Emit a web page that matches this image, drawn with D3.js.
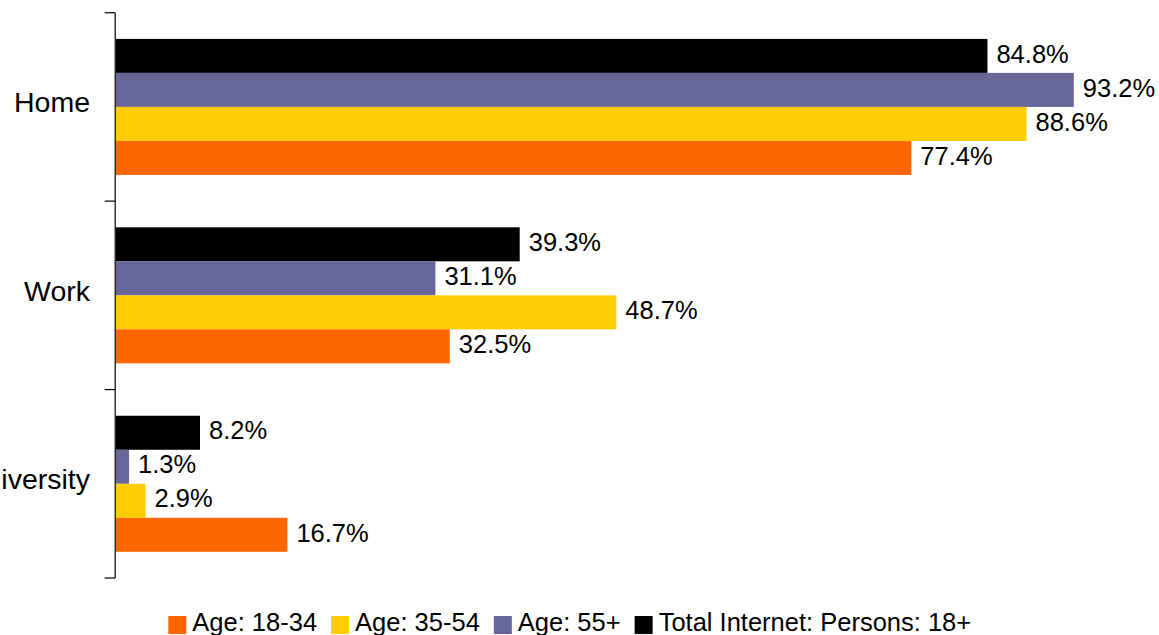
<!DOCTYPE html>
<html>
<head>
<meta charset="utf-8">
<script src="https://cdn.jsdelivr.net/npm/d3@7"></script>
<style>
  html, body { margin: 0; padding: 0; background: #ffffff; }
  svg { display: block; font-family: "Liberation Sans", Arial, sans-serif; }
</style>
</head>
<body>
<svg id="chart" width="1159" height="635"></svg>
<script>
// Place of internet access, share of each age group
const categories = ["Home", "Work", "University"];
// Bars listed top to bottom inside each category
const seriesNames = ["Total Internet: Persons: 18+", "Age: 55+", "Age: 35-54", "Age: 18-34"];
const seriesColors = ["#000000", "#666699", "#FFCC00", "#FF6600"];
const totalInternet = [84.8, 39.3, 8.2];
const age55plus = [93.2, 31.1, 1.3];
const age35to54 = [88.6, 48.7, 2.9];
const age18to34 = [77.4, 32.5, 16.7];
const seriesValues = [totalInternet, age55plus, age35to54, age18to34];
// Legend runs in the opposite order
const legendOrder = [3, 2, 1, 0];

const svg = d3.select("#chart");

const x = d3.scaleLinear().domain([0, 100]).range([115.7, 1143.7]);
const y0 = d3.scaleBand().domain(categories).range([12.7, 578]).paddingInner(0.278).paddingOuter(0.139);
const y1 = d3.scaleBand().domain(seriesNames).range([0, y0.bandwidth()]);

const rows = [];
categories.forEach((c, ci) => {
  seriesNames.forEach((s, si) => {
    rows.push({ cat: c, series: s, color: seriesColors[si], value: seriesValues[si][ci] });
  });
});

// Bars
svg.append("g").selectAll("rect")
  .data(rows)
  .join("rect")
  .attr("x", x(0))
  .attr("y", d => y0(d.cat) + y1(d.series))
  .attr("width", d => x(d.value) - x(0))
  .attr("height", y1.bandwidth())
  .attr("fill", d => d.color);

// Value labels
svg.append("g").selectAll("text")
  .data(rows)
  .join("text")
  .attr("x", d => x(d.value) + 9)
  .attr("y", d => y0(d.cat) + y1(d.series) + y1.bandwidth() / 2 + 6.7)
  .attr("font-size", 25.5)
  .attr("fill", "#000")
  .text(d => d.value.toFixed(1) + "%");

// Category axis: vertical line with ticks on the band boundaries
const step = y0.step();
const start = y0.range()[0];
const boundaries = d3.range(categories.length + 1).map(i => start + i * step);
const axisG = svg.append("g").attr("stroke", "#000").attr("stroke-width", 1.2);
axisG.append("line")
  .attr("x1", x(0) - 0.5).attr("x2", x(0) - 0.5)
  .attr("y1", boundaries[0]).attr("y2", boundaries[boundaries.length - 1]);
axisG.selectAll("line.tick")
  .data(boundaries)
  .join("line")
  .attr("class", "tick")
  .attr("x1", x(0) - 11).attr("x2", x(0) - 0.5)
  .attr("y1", d => d).attr("y2", d => d);

// Category labels
svg.append("g").selectAll("text")
  .data(categories)
  .join("text")
  .attr("x", 90)
  .attr("y", d => y0(d) + y0.bandwidth() / 2 + 5.5)
  .attr("text-anchor", "end")
  .attr("font-size", 28.5)
  .attr("fill", "#000")
  .text(d => d);

// Legend
const legend = svg.append("g");
let lx = 168.3;
legendOrder.forEach(si => {
  legend.append("rect")
    .attr("x", lx).attr("y", 616)
    .attr("width", 18).attr("height", 18)
    .attr("fill", seriesColors[si]);
  const t = legend.append("text")
    .attr("x", lx + 24).attr("y", 631)
    .attr("font-size", 25.5)
    .attr("fill", "#000")
    .text(seriesNames[si]);
  lx += 24 + t.node().getComputedTextLength() + 14;
});
</script>
</body>
</html>
